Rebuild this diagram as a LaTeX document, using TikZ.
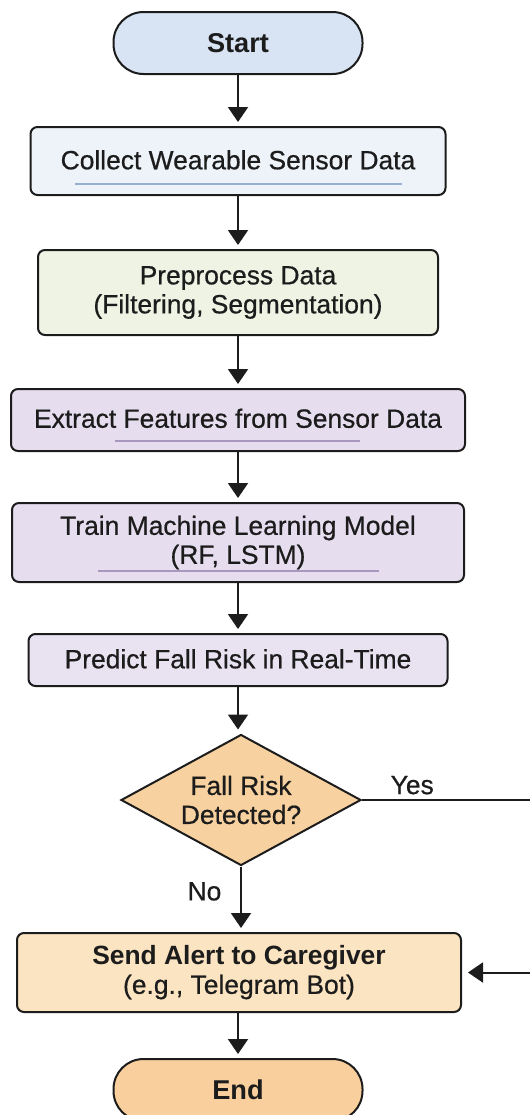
\documentclass[tikz,border=0pt]{standalone}
\usepackage{fontspec}
\setmainfont[FakeBold=0.6, BoldFeatures={FakeBold=0}]{Liberation Sans}
\usetikzlibrary{arrows.meta,shapes.geometric}
\definecolor{ink}{HTML}{1C1C1C}
\definecolor{startfill}{HTML}{D8E3F3}
\definecolor{collectfill}{HTML}{EEF3FA}
\definecolor{prepfill}{HTML}{EEF3E4}
\definecolor{lavfill}{HTML}{E6DDEF}
\definecolor{predfill}{HTML}{E9E3F1}
\definecolor{decfill}{HTML}{F8D1A0}
\definecolor{alertfill}{HTML}{FBE4C1}
\definecolor{endfill}{HTML}{F8CF9D}
\definecolor{blueline}{HTML}{98B0D0}
\definecolor{lavline}{HTML}{A898C0}
\begin{document}
\begin{tikzpicture}[x=0.5pt,y=-0.5pt,
  every node/.style={font=\fontsize{13.2}{14.5}\selectfont, text=ink},
  stepbox/.style={draw=ink, line width=1pt, rounded corners=3.5pt,
    align=center, inner sep=0pt},
  term/.style={stepbox, rounded corners=15pt, font=\fontsize{13.6}{15}\selectfont\bfseries,
    minimum width=124.5pt, minimum height=31pt},
  decision/.style={draw=ink, line width=1pt, diamond, aspect=1.83, inner sep=0pt,
    minimum width=120pt, minimum height=65.5pt, align=center, fill=decfill},
  flow/.style={draw=ink, line width=1pt, -{Triangle[width=10pt,length=7.5pt]},
    shorten >=2pt},
  uline/.style={line width=1pt}]
\useasboundingbox (0,0) rectangle (530,1115);

% process steps, all centred on the same vertical axis
\node[term, fill=startfill] (start) at (238,43) {Start};
\node[stepbox, fill=collectfill, minimum width=207.5pt, minimum height=34pt]
  (collect) at (238,161) {\raisebox{1.3pt}{Collect Wearable Sensor Data}};
\node[stepbox, fill=prepfill, minimum width=200pt, minimum height=42.5pt]
  (prep) at (238,292.5) {Preprocess Data\\(Filtering, Segmentation)};
\node[stepbox, fill=lavfill, minimum width=227pt, minimum height=31pt]
  (feat) at (238,420) {\raisebox{1.8pt}{Extract Features from Sensor Data}};
\node[stepbox, fill=lavfill, minimum width=226pt, minimum height=39.5pt]
  (train) at (238,542.5) {Train Machine Learning Model\\(RF, LSTM)};
\node[stepbox, fill=predfill, minimum width=209.5pt, minimum height=26pt]
  (pred) at (238,660) {\raisebox{1.3pt}{Predict Fall Risk in Real-Time}};
\node[decision] (dec) at (241,800) {Fall Risk\\Detected?};
\node[stepbox, fill=alertfill, minimum width=222pt, minimum height=39.5pt]
  (alert) at (239,972.5) {\textbf{Send Alert to Caregiver}\\(e.g., Telegram Bot)};
\node[term, fill=endfill] (end) at (238,1090) {End};

% underlines inside the boxes
\draw[uline, blueline] (75,184) -- (402,184);
\draw[uline, lavline] (115,441) -- (360,441);
\draw[uline, lavline] (98,571) -- (379,571);

% connectors
\draw[flow] (start) -- (collect);
\draw[flow] (collect) -- (prep);
\draw[flow] (prep) -- (feat);
\draw[flow] (feat) -- (train);
\draw[flow] (train) -- (pred);
\draw[flow] (pred.south) -- (pred.south |- dec.north);
\draw[flow] (dec.south) -- node[pos=0.38, left=6pt] {No} (dec.south |- alert.north);
\coordinate (loop) at (548,800);
\draw[flow, shorten >=3pt] (dec.east) -- node[pos=0.27, above=-1pt] {Yes} (loop) |- (alert.east);
\draw[flow] (alert.south -| end) -- (end);
\end{tikzpicture}
\end{document}
